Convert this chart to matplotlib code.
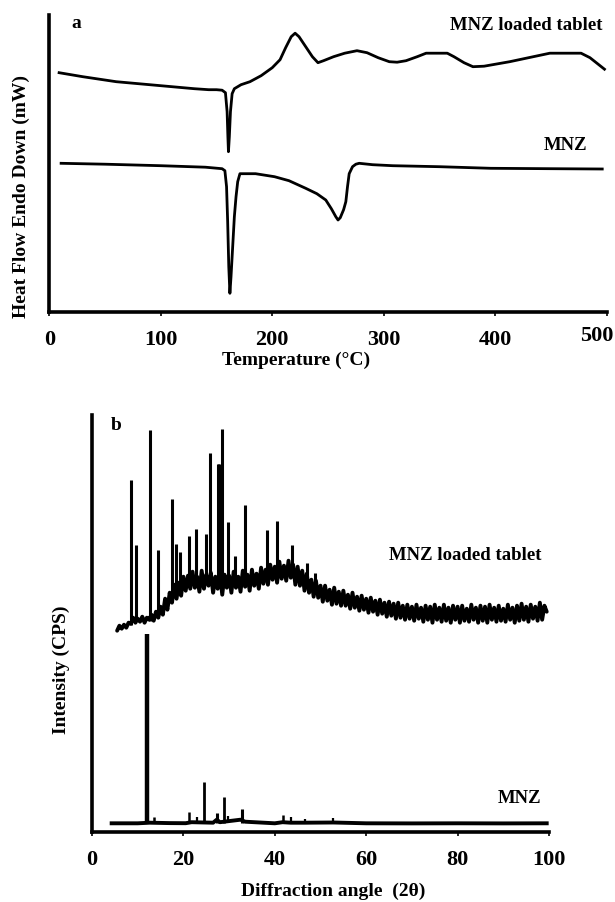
import matplotlib
matplotlib.use("Agg")
import matplotlib.pyplot as plt
from matplotlib.transforms import ScaledTranslation

plt.rcParams['font.family'] = ['Liberation Serif', 'DejaVu Serif']
plt.rcParams['font.weight'] = 'bold'

# ---------------- Panel a: DSC ----------------
dsc_tablet_T = [8.8, 30, 60, 100, 130, 143, 150, 155, 158, 159.5, 160.2, 160.7, 161.5, 162.5, 164, 166,
                172, 180, 190, 200, 207, 212, 217, 220.5, 224, 230, 236, 241, 246, 255, 265, 276, 285,
                295, 305, 312, 320, 330, 338, 357, 363, 372, 380, 390, 413, 449, 477, 485, 498]
dsc_tablet_h = [239, 235, 230, 226, 223, 222, 222, 221.5, 219, 200, 175, 160, 175, 200, 218, 223,
                227, 230, 236, 244, 252, 264, 275, 278.5, 275, 265, 255, 249, 251, 255, 258.5, 261, 259,
                254, 250, 249.5, 251, 255, 258.5, 258.5, 255, 249, 245, 245.5, 250, 258.5, 258.5, 254, 242.5]

dsc_mnz_T = [10.6, 50, 100, 140, 155, 157.5, 159, 160, 161, 162, 163, 164.5, 166, 167.5, 169, 171,
             185, 202, 215, 230, 240, 248, 253, 257, 259, 261, 264, 266, 267.5, 269, 272, 275, 278,
             290, 308, 350, 396, 450, 496]
dsc_mnz_h = [148.4, 147.5, 146, 144.5, 143, 141, 125, 90, 45, 18.4, 35, 65, 95, 115, 130, 138,
             138, 135, 131, 123.4, 118, 111.7, 103, 95, 91.7, 94, 102, 110, 125, 138, 145, 147.5, 148.4,
             147, 146, 145, 143.4, 143, 142.7]

dsc_xticks = [0, 100, 200, 300, 400, 500]

# ---------------- Panel b: XRD ----------------
xrd_tab_2t = [5.5, 6.0, 6.5, 7.0, 7.5, 8.0, 8.5, 9.0, 9.5, 10.0,
              10.5, 11.0, 11.5, 12.0, 12.5, 13.0, 13.5, 14.0, 14.5, 15.0,
              15.5, 16.0, 16.5, 17.0, 17.5, 18.0, 18.5, 19.0, 19.5, 20.0,
              20.5, 21.0, 21.5, 22.0, 22.5, 23.0, 23.5, 24.0, 24.5, 25.0,
              25.5, 26.0, 26.5, 27.0, 27.5, 28.0, 28.5, 29.0, 29.5, 30.0,
              30.5, 31.0, 31.5, 32.0, 32.5, 33.0, 33.5, 34.0, 34.5, 35.0,
              35.5, 36.0, 36.5, 37.0, 37.5, 38.0, 38.5, 39.0, 39.5, 40.0,
              40.5, 41.0, 41.5, 42.0, 42.5, 43.0, 43.5, 44.0, 44.5, 45.0,
              45.5, 46.0, 46.5, 47.0, 47.5, 48.0, 48.5, 49.0, 49.5, 50.0,
              50.5, 51.0, 51.5, 52.0, 52.5, 53.0, 53.5, 54.0, 54.5, 55.0,
              55.5, 56.0, 56.5, 57.0, 57.5, 58.0, 58.5, 59.0, 59.5, 60.0,
              60.5, 61.0, 61.5, 62.0, 62.5, 63.0, 63.5, 64.0, 64.5, 65.0,
              65.5, 66.0, 66.5, 67.0, 67.5, 68.0, 68.5, 69.0, 69.5, 70.0,
              70.5, 71.0, 71.5, 72.0, 72.5, 73.0, 73.5, 74.0, 74.5, 75.0,
              75.5, 76.0, 76.5, 77.0, 77.5, 78.0, 78.5, 79.0, 79.5, 80.0,
              80.5, 81.0, 81.5, 82.0, 82.5, 83.0, 83.5, 84.0, 84.5, 85.0,
              85.5, 86.0, 86.5, 87.0, 87.5, 88.0, 88.5, 89.0, 89.5, 90.0,
              90.5, 91.0, 91.5, 92.0, 92.5, 93.0, 93.5, 94.0, 94.5, 95.0,
              95.5, 96.0, 96.5, 97.0, 97.5, 98.0, 98.5, 99.0, 99.5]
xrd_tab_int = [201, 206, 203, 207, 204, 209, 208, 214, 209, 213,
               210, 215, 209, 214, 212, 217, 211, 220, 214, 225,
               217, 233, 222, 239, 229, 247, 233, 249, 236, 255,
               241, 256, 243, 260, 244, 255, 240, 261, 243, 257,
               246, 259, 239, 255, 243, 258, 237, 257, 244, 256,
               239, 260, 244, 255, 240, 261, 245, 257, 241, 262,
               246, 258, 243, 264, 248, 262, 247, 267, 252, 265,
               249, 270, 253, 266, 251, 271, 254, 267, 247, 265,
               246, 261, 241, 258, 239, 252, 235, 251, 234, 246,
               230, 246, 231, 242, 227, 244, 228, 240, 226, 241,
               226, 237, 223, 239, 224, 235, 221, 236, 222, 233,
               219, 234, 220, 231, 217, 232, 218, 229, 215, 230,
               216, 228, 213, 229, 214, 226, 212, 227, 213, 225,
               211, 227, 213, 224, 210, 226, 212, 225, 209, 227,
               212, 224, 210, 227, 211, 224, 209, 226, 212, 225,
               209, 226, 211, 223, 210, 227, 212, 224, 209, 226,
               211, 225, 209, 227, 212, 224, 210, 226, 211, 223,
               210, 227, 212, 224, 209, 226, 211, 228, 212, 225,
               210, 227, 213, 225, 211, 229, 212, 226, 220]

xrd_tab_peak_2t = [8.5, 9.6, 12.7, 14.4, 17.6, 18.4, 19.3, 21.2, 22.7, 24.9, 25.8, 27.5, 27.8,
                   28.4, 29.8, 31.3, 33.4, 38.2, 40.5, 43.7, 47.0, 48.8]
xrd_tab_peak_lo = [207, 211, 211, 214, 230, 235, 240, 245, 247, 248, 248, 245, 245,
                   245, 245, 245, 245, 250, 255, 258, 248, 245]
xrd_tab_peak_hi = [352, 287, 402, 282, 333, 288, 280, 296, 303, 298, 379, 368, 368,
                   403, 310, 276, 327, 302, 311, 287, 269, 259]

xrd_mnz_2t = [4.3, 10, 11.8, 12.6, 17, 20.5, 21.8, 26.5, 27.3, 28.0, 32.5, 33.5, 40,
              41.7, 43.5, 46.6, 52.8, 60, 70, 80, 90, 99.5]
xrd_mnz_int = [8.4, 8.4, 8.8, 9.0, 8.6, 8.5, 9.5, 9.0, 12, 9.5, 12, 10, 8.4,
               9.5, 9.0, 9.0, 9.2, 8.4, 8.3, 8.4, 8.3, 8.4]
xrd_mnz_peak_2t = [12.1, 13.6, 21.3, 22.9, 24.5, 27.3, 28.9, 29.7, 32.8, 41.7, 43.5, 46.6, 52.8]
xrd_mnz_peak_hi = [198, 15, 20, 15, 50, 19, 35, 16, 23, 17, 14.5, 13, 14]
xrd_mnz_peak_w = [3.2, 1.8, 1.8, 1.6, 2.0, 2.2, 2.0, 1.6, 2.2, 1.8, 1.6, 1.6, 1.6]

xrd_xticks = [0, 20, 40, 60, 80, 100]

W, H = 615, 902
fig = plt.figure(figsize=(W / 100, H / 100), dpi=100)


def px_axes(left, top, right, bottom):
    return fig.add_axes([left / W, 1 - bottom / H, (right - left) / W, (bottom - top) / H])


def fx(x):
    return x / W


def fy(y):
    return 1 - y / H


def style(ax, ticks):
    for s in ['top', 'right']:
        ax.spines[s].set_visible(False)
    for s in ['left', 'bottom']:
        ax.spines[s].set_linewidth(2.6)
        ax.spines[s].set_color('black')
    ax.set_yticks([])
    ax.set_xticks(ticks)
    ax.tick_params(axis='x', direction='out', length=3, width=1.2, pad=10,
                   labelsize=16)
    for lab in ax.get_xticklabels():
        lab.set_fontweight('bold')


# Panel a
axA = px_axes(49.3, 15, 606.7, 311.7)
axA.set_xlim(0, 500)
axA.set_ylim(0, 296.7)
axA.plot(dsc_tablet_T, dsc_tablet_h, color='black', lw=2.0, solid_joinstyle='round')
axA.plot(dsc_mnz_T, dsc_mnz_h, color='black', lw=2.0, solid_joinstyle='round')
style(axA, dsc_xticks)
# the "500" label sits slightly left of and above its tick in the original
last = axA.get_xticklabels()[-1]
last.set_transform(last.get_transform() + ScaledTranslation(-0.10, 0.04, fig.dpi_scale_trans))

fig.text(fx(76.6), fy(23), 'a', ha='center', va='center', fontsize=14, fontweight='bold')
fig.text(fx(602), fy(25), 'MNZ loaded tablet', ha='right', va='center', fontsize=13.5, fontweight='bold')
fig.text(fx(587), fy(145), 'MNZ', ha='right', va='center', fontsize=13.5, fontweight='bold')
fig.text(fx(296.5), fy(360), 'Temperature (°C)', ha='center', va='center', fontsize=14, fontweight='bold')
fig.text(fx(21.6), fy(197), 'Heat Flow Endo Down (mW)', ha='center', va='center', rotation=90,
         fontsize=14, fontweight='bold')

# Panel b
axB = px_axes(92, 415, 549, 831.7)
axB.set_xlim(0, 100)
axB.set_ylim(0, 416.7)
axB.plot(xrd_tab_2t, xrd_tab_int, color='black', lw=2.8, solid_joinstyle='round',
         solid_capstyle='round')
axB.vlines(xrd_tab_peak_2t, xrd_tab_peak_lo, xrd_tab_peak_hi, color='black', lw=2.2)
axB.plot(xrd_mnz_2t, xrd_mnz_int, color='black', lw=2.8)
axB.vlines(xrd_mnz_peak_2t, [8.4] * len(xrd_mnz_peak_2t), xrd_mnz_peak_hi, color='black',
           lw=xrd_mnz_peak_w)
style(axB, xrd_xticks)

fig.text(fx(116), fy(425), 'b', ha='center', va='center', fontsize=14, fontweight='bold')
fig.text(fx(541.7), fy(555), 'MNZ loaded tablet', ha='right', va='center', fontsize=13.5, fontweight='bold')
fig.text(fx(541.7), fy(798.3), 'MNZ', ha='right', va='center', fontsize=13.5, fontweight='bold')
fig.text(fx(333), fy(891.7), 'Diffraction angle  (2θ)', ha='center', va='center', fontsize=14,
         fontweight='bold')
fig.text(fx(61), fy(670), 'Intensity (CPS)', ha='center', va='center', rotation=90,
         fontsize=14, fontweight='bold')

fig.savefig('out.png', dpi=100)
